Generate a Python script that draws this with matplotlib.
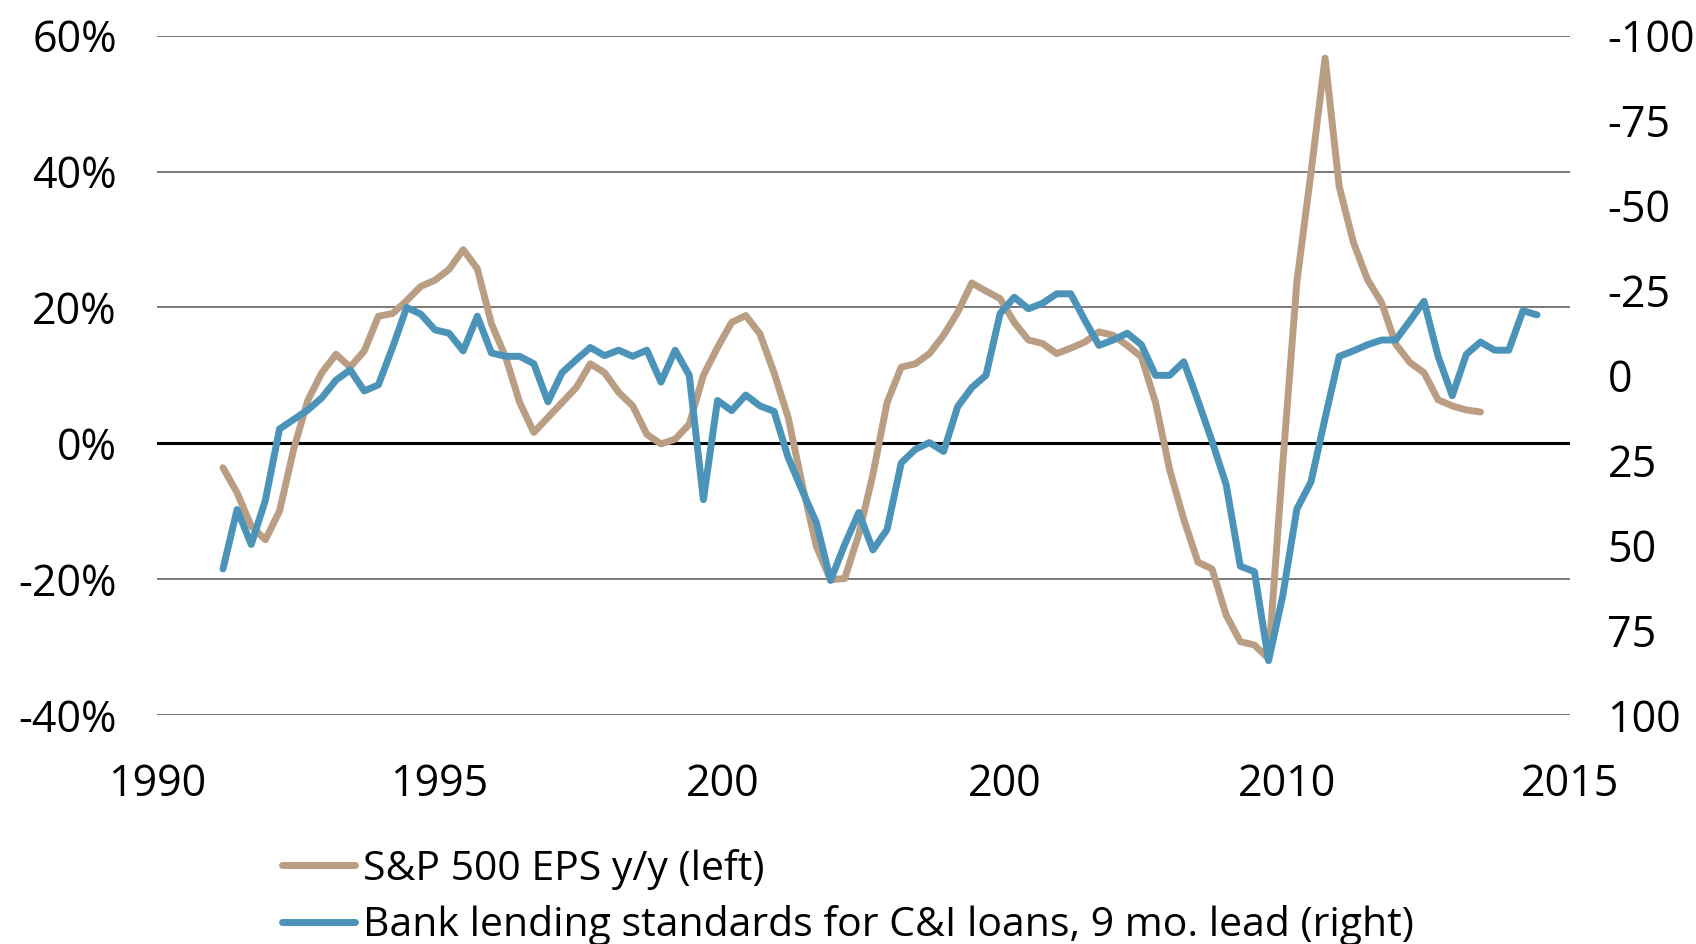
import numpy as np
import pandas as pd
import matplotlib
matplotlib.use("Agg")
import matplotlib.pyplot as plt

# S&P 500 EPS y/y, % (left axis), quarterly from Q1 1991
eps_yoy = [-3.6, -7.3, -12.2, -14.2, -10.0, -0.9, 6.3, 10.4, 13.1, 11.2,
           13.6, 18.7, 19.1, 21.0, 23.1, 24.0, 25.6, 28.5, 25.7, 17.6,
           12.7, 6.0, 1.6, 3.8, 6.0, 8.2, 11.7, 10.4, 7.5, 5.5,
           1.3, -0.1, 0.6, 2.8, 10.0, 14.1, 17.8, 18.8, 16.1, 10.4,
           3.8, -6.1, -15.2, -20.1, -19.9, -13.4, -4.6, 6.0, 11.2, 11.7,
           13.2, 15.9, 19.3, 23.6, 22.4, 21.3, 17.8, 15.2, 14.7, 13.2,
           14.0, 14.9, 16.4, 15.9, 14.4, 12.7, 6.0, -3.9, -11.2, -17.5,
           -18.5, -25.3, -29.2, -29.7, -31.7, -3.2, 23.7, 39.8, 56.7, 37.8,
           29.6, 24.1, 20.7, 14.6, 11.9, 10.4, 6.4, 5.5, 4.9, 4.6]

# Bank lending standards for C&I loans, net % tightening, 9 mo. lead (right axis, inverted)
lending = [57, 39.5, 49.8, 36.8, 15.8, 13, 10.2, 6.6, 1.4, -1.6,
           4.6, 2.8, -8.2, -20, -18, -13.4, -12.4, -7.2, -17.4, -6.6,
           -5.6, -5.6, -3.4, 7.8, -0.8, -4.6, -8.2, -5.8, -7.4, -5.6,
           -7.4, 2, -7.4, 0, 36.6, 7.4, 10.4, 5.8, 9, 10.6,
           24.2, 34, 43.4, 60.4, 49.8, 40.4, 51.4, 45.4, 25.8, 21.8,
           19.8, 22.4, 9.2, 3.6, 0, -18.2, -23, -19.6, -21.2, -24,
           -24, -16.2, -8.8, -10.4, -12.4, -9, 0, 0, -4, 7.4,
           19.4, 32.2, 56.2, 57.8, 84, 65, 39.4, 31.4, 12.6, -5.6,
           -7.2, -9, -10.4, -10.4, -16, -21.8, -5.6, 6, -6.2, -9.8,
           -7.4, -7.4, -19, -17.8]

x_ticks = [1990, 1995, 2000, 2005, 2010, 2015]
x_ticklabels = ["1990", "1995", "200", "200", "2010", "2015"]
left_ticks = [-40, -20, 0, 20, 40, 60]
right_ticks = [-100, -75, -50, -25, 0, 25, 50, 75, 100]

TAN = "#BA9E84"
BLUE = "#4B93B8"


def decimal_year(dates):
    return dates.year + (dates.month - 1) / 12.0


def main():
    plt.rcParams["font.family"] = ["Open Sans", "DejaVu Sans"]
    plt.rcParams["axes.unicode_minus"] = False

    d_eps = pd.date_range("1991-03-01", periods=len(eps_yoy), freq="QS-MAR")
    d_lend = pd.date_range("1991-03-01", periods=len(lending), freq="QS-MAR")
    x_eps = decimal_year(d_eps)
    x_lend = decimal_year(d_lend)

    fig = plt.figure(figsize=(16.96, 9.44), dpi=100)
    ax = fig.add_axes([0.0926, 0.2426, 0.8331, 0.7196])
    ax2 = ax.twinx()

    # grille
    for v in left_ticks:
        if v == 0:
            ax.axhline(v, color="black", lw=2.2, zorder=1)
        else:
            ax.axhline(v, color="#555555", lw=1.1, zorder=1)

    ax.plot(x_eps, eps_yoy, color=TAN, lw=5.0, solid_capstyle="round",
            solid_joinstyle="round", zorder=3, label="S&P 500 EPS y/y (left)")
    ax2.plot(x_lend, lending, color=BLUE, lw=5.0, solid_capstyle="round",
             solid_joinstyle="round", zorder=3,
             label="Bank lending standards for C&I loans, 9 mo. lead (right)")

    ax.set_xlim(1990, 2015)
    ax.set_ylim(-40, 60)
    ax2.set_ylim(100, -100)

    ax.set_xticks(x_ticks)
    ax.set_xticklabels(x_ticklabels)
    ax.set_yticks(left_ticks)
    ax.set_yticklabels([f"{v}%" for v in left_ticks])
    ax2.set_yticks(right_ticks)
    ax2.set_yticklabels([str(v) for v in right_ticks])

    for a in (ax, ax2):
        for s in a.spines.values():
            s.set_visible(False)
        a.tick_params(length=0, labelsize=31, colors="black")
    ax.tick_params(axis="y", pad=29)
    ax.tick_params(axis="x", pad=34)
    ax2.tick_params(axis="y", pad=27)

    h1, l1 = ax.get_legend_handles_labels()
    h2, l2 = ax2.get_legend_handles_labels()
    fig.legend(h1 + h2, l1 + l2, loc="upper left",
               bbox_to_anchor=(0.166, 0.101), frameon=False,
               fontsize=29.5, handlelength=1.8, handletextpad=0.2,
               labelspacing=0.38, borderaxespad=0, borderpad=0)

    fig.savefig("out.png", dpi=100, facecolor="white")


if __name__ == "__main__":
    main()
